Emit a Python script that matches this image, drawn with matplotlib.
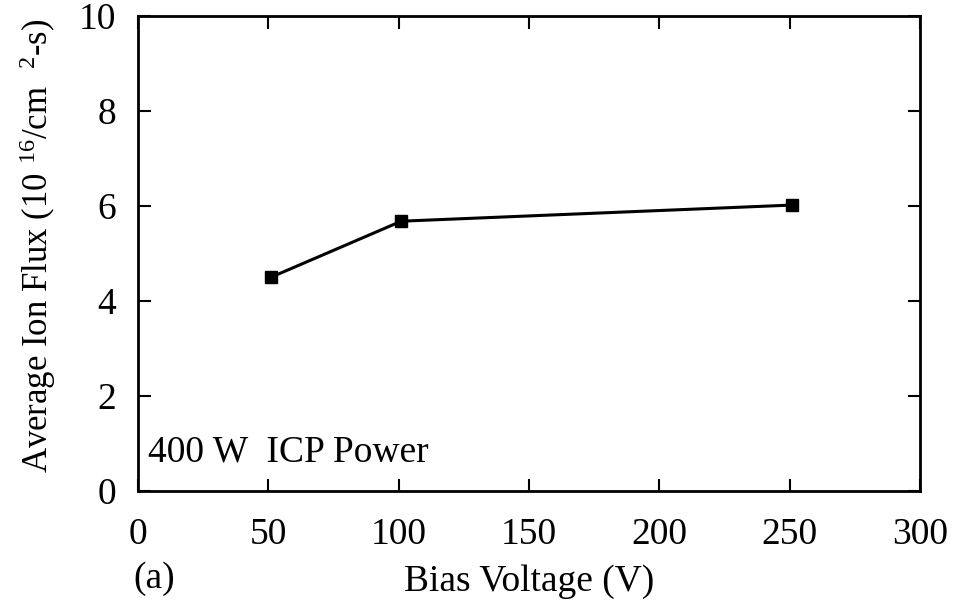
import matplotlib
matplotlib.use("Agg")
import matplotlib.pyplot as plt

bias_voltage = [51, 101, 251]
ion_flux = [4.50, 5.68, 6.02]
x_ticks = [0, 50, 100, 150, 200, 250, 300]
y_ticks = [0, 2, 4, 6, 8, 10]

plt.rcParams['font.family'] = ['Liberation Serif']
plt.rcParams['mathtext.fontset'] = 'custom'
plt.rcParams['mathtext.rm'] = 'Liberation Serif'
plt.rcParams['mathtext.it'] = 'Liberation Serif:italic'

FS = 27
fig = plt.figure(figsize=(9.55, 6.01), dpi=100)
ax = fig.add_axes([138/955, 1-491/601, (920-138)/955, (491-16)/601])

ax.plot(bias_voltage, ion_flux, color='black', lw=2.2, marker='s', ms=8)

ax.set_xlim(0, 300)
ax.set_ylim(0, 10)
ax.set_xticks(x_ticks)
ax.set_yticks(y_ticks)
ax.tick_params(direction='in', length=9, width=1.5, labelsize=FS,
               top=True, right=True)
ax.tick_params(axis='x', pad=19)
ax.tick_params(axis='y', pad=16)
for s in ax.spines.values():
    s.set_linewidth(2)

ax.set_xlabel('Bias Voltage (V)', fontsize=FS, labelpad=9)
ax.set_ylabel(r'Average Ion Flux (10 $^{16}$/cm  $^{2}$-s)', fontsize=25)
ax.yaxis.set_label_coords((58-138)/782, (491-246)/475)
ax.text(0.013, 0.045, '400 W  ICP Power', transform=ax.transAxes, fontsize=FS,
        ha='left', va='bottom')
fig.text(133/955, 1-579/601, '(a)', fontsize=FS, ha='left', va='center')

fig.savefig('out.png', dpi=100)
